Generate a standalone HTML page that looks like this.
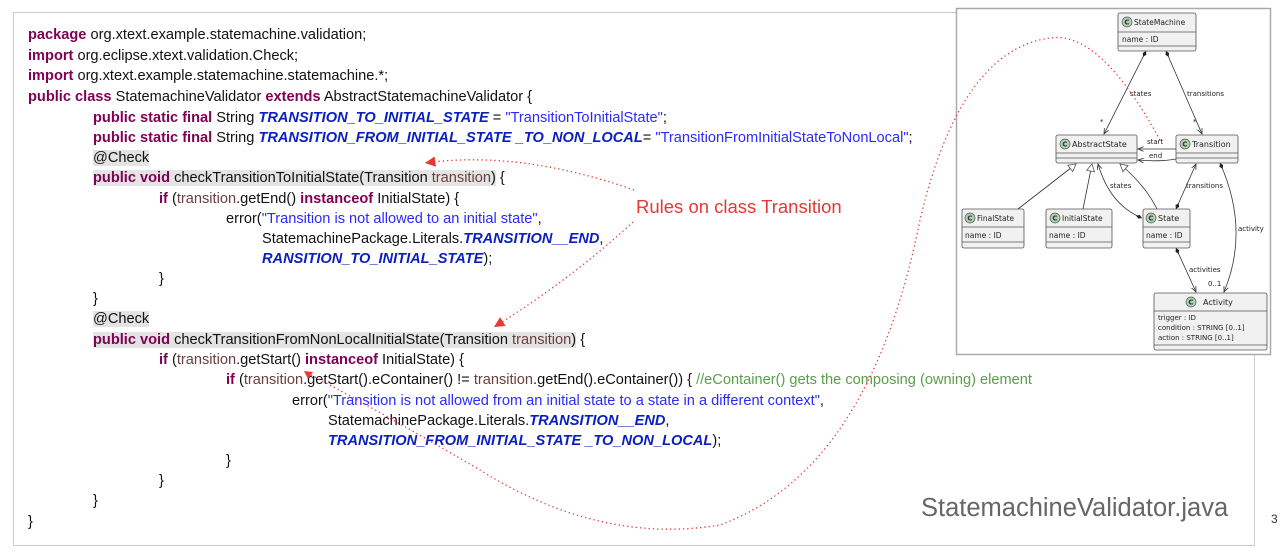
<!DOCTYPE html>
<html><head><meta charset="utf-8"><style>
body{margin:0;width:1282px;height:554px;background:#fff;position:relative;overflow:hidden;font-family:"Liberation Sans",Arial,sans-serif}
.frame{position:absolute;left:13px;top:12px;width:1242px;height:534px;border:1.5px solid #ccc;box-sizing:border-box}
.l{position:absolute;white-space:pre;font-size:14.6px;line-height:18px;letter-spacing:0;color:#111;margin-top:1px}
.k{color:#7f0055;font-weight:bold}
.s{color:#2a2aff}
.c{color:#0a1fc0;font-weight:bold;font-style:italic}
.p{color:#6a3e3e}
.g{color:#5a9e4a}
.h{background:#e4e4e4}
</style></head><body>
<div class="frame"></div>
<div class="l" style="left:28px;top:25px"><span class="k">package</span> org.xtext.example.statemachine.validation;</div>
<div class="l" style="left:28px;top:46px"><span class="k">import</span> org.eclipse.xtext.validation.Check;</div>
<div class="l" style="left:28px;top:66px"><span class="k">import</span> org.xtext.example.statemachine.statemachine.*;</div>
<div class="l" style="left:28px;top:87px"><span class="k">public class</span> StatemachineValidator <span class="k">extends</span> AbstractStatemachineValidator {</div>
<div class="l" style="left:93px;top:108px"><span class="k">public static final</span> String <span class="c">TRANSITION_TO_INITIAL_STATE</span> = <span class="s">"TransitionToInitialState"</span>;</div>
<div class="l" style="left:93px;top:128px"><span class="k">public static final</span> String <span class="c">TRANSITION_FROM_INITIAL_STATE _TO_NON_LOCAL</span>= <span class="s">"TransitionFromInitialStateToNonLocal"</span>;</div>
<div class="l" style="left:93px;top:148px"><span class="h">@Check</span></div>
<div class="l" style="left:93px;top:168px"><span class="h"><span class="k">public void</span> checkTransitionToInitialState(Transition <span class="p">transition</span>)</span> {</div>
<div class="l" style="left:159px;top:189px"><span class="k">if</span> (<span class="p">transition</span>.getEnd() <span class="k">instanceof</span> InitialState) {</div>
<div class="l" style="left:226px;top:209px">error(<span class="s">"Transition is not allowed to an initial state"</span>,</div>
<div class="l" style="left:262px;top:229px">StatemachinePackage.Literals.<span class="c">TRANSITION__END</span>,</div>
<div class="l" style="left:262px;top:249px"><span class="c">RANSITION_TO_INITIAL_STATE</span>);</div>
<div class="l" style="left:159px;top:269px">}</div>
<div class="l" style="left:93px;top:289px">}</div>
<div class="l" style="left:93px;top:309px"><span class="h">@Check</span></div>
<div class="l" style="left:93px;top:330px"><span class="h"><span class="k">public void</span> checkTransitionFromNonLocalInitialState(Transition <span class="p">transition</span>)</span> {</div>
<div class="l" style="left:159px;top:350px"><span class="k">if</span> (<span class="p">transition</span>.getStart() <span class="k">instanceof</span> InitialState) {</div>
<div class="l" style="left:226px;top:370px"><span class="k">if</span> (<span class="p">transition</span>.getStart().eContainer() != <span class="p">transition</span>.getEnd().eContainer()) { <span class="g">//eContainer() gets the composing (owning) element</span></div>
<div class="l" style="left:292px;top:391px">error(<span class="s">"Transition is not allowed from an initial state to a state in a different context"</span>,</div>
<div class="l" style="left:328px;top:411px">StatemachinePackage.Literals.<span class="c">TRANSITION__END</span>,</div>
<div class="l" style="left:328px;top:431px"><span class="c">TRANSITION_FROM_INITIAL_STATE _TO_NON_LOCAL</span>);</div>
<div class="l" style="left:226px;top:451px">}</div>
<div class="l" style="left:159px;top:471px">}</div>
<div class="l" style="left:93px;top:491px">}</div>
<div class="l" style="left:28px;top:512px">}</div>
<div style="position:absolute;left:636px;top:196px;font-size:18.5px;color:#e53935">Rules on class Transition</div>
<div style="position:absolute;left:921px;top:494px;font-size:25.5px;color:#666">StatemachineValidator.java</div>
<div style="position:absolute;left:1271px;top:512px;font-size:12px;color:#333">3</div>

<svg style="position:absolute;left:0;top:0" width="1282" height="554" font-family="'DejaVu Sans',sans-serif" font-size="7.5">
<defs>
<marker id="ar" markerWidth="8" markerHeight="8" refX="7" refY="4" orient="auto"><path d="M0,1 L7,4 L0,7" fill="none" stroke="#333" stroke-width="1"/></marker>
<marker id="dm" markerWidth="10" markerHeight="8" refX="1" refY="4" orient="auto"><path d="M1,4 L5,1.5 L9,4 L5,6.5 Z" fill="#222"/></marker>
<marker id="tri" markerWidth="12" markerHeight="12" refX="10" refY="6" orient="auto"><path d="M1,1 L10,6 L1,11 Z" fill="#fff" stroke="#555"/></marker>
<marker id="ra" markerWidth="10" markerHeight="10" refX="8" refY="5" orient="auto"><path d="M0,1 L8,5 L0,9 Z" fill="#e53935"/></marker>
</defs>
<rect x="956.5" y="8.5" width="314" height="346" fill="#fff" stroke="#aaa" stroke-width="1.5"/>
<g stroke="#555" stroke-width="0.8" fill="#f1f1f1">
<rect x="1118" y="13" width="78" height="38" rx="2"/><line x1="1118" y1="32" x2="1196" y2="32"/><line x1="1118" y1="46" x2="1196" y2="46"/>
<rect x="1056" y="135" width="81" height="28" rx="2"/><line x1="1056" y1="153" x2="1137" y2="153"/><line x1="1056" y1="158" x2="1137" y2="158"/>
<rect x="1176" y="135" width="62" height="28" rx="2"/><line x1="1176" y1="153" x2="1238" y2="153"/><line x1="1176" y1="158" x2="1238" y2="158"/>
<rect x="962" y="209" width="62" height="39" rx="2"/><line x1="962" y1="227" x2="1024" y2="227"/><line x1="962" y1="242" x2="1024" y2="242"/>
<rect x="1046" y="209" width="66" height="39" rx="2"/><line x1="1046" y1="227" x2="1112" y2="227"/><line x1="1046" y1="242" x2="1112" y2="242"/>
<rect x="1143" y="209" width="47" height="39" rx="2"/><line x1="1143" y1="227" x2="1190" y2="227"/><line x1="1143" y1="242" x2="1190" y2="242"/>
<rect x="1154" y="293" width="113" height="57" rx="2"/><line x1="1154" y1="311" x2="1267" y2="311"/><line x1="1154" y1="345" x2="1267" y2="345"/>
</g>
<g fill="#add1b2" stroke="#555" stroke-width="0.7">
<circle cx="1127" cy="22" r="5"/><circle cx="1065" cy="144" r="5"/><circle cx="1185" cy="144" r="5"/>
<circle cx="970" cy="218" r="5"/><circle cx="1055" cy="218" r="5"/><circle cx="1151" cy="218" r="5"/><circle cx="1191" cy="302" r="5"/>
</g>
<g font-size="7" font-weight="bold" fill="#333" text-anchor="middle">
<text x="1127" y="24.5">C</text><text x="1065" y="146.5">C</text><text x="1185" y="146.5">C</text>
<text x="970" y="220.5">C</text><text x="1055" y="220.5">C</text><text x="1151" y="220.5">C</text><text x="1191" y="304.5">C</text>
</g>
<g fill="#222">
<text x="1134" y="25">StateMachine</text><text x="1122" y="42">name : ID</text>
<text x="1072" y="147" font-size="8">AbstractState</text><text x="1192" y="147" font-size="8">Transition</text>
<text x="977" y="221">FinalState</text><text x="965" y="238">name : ID</text>
<text x="1062" y="221">InitialState</text><text x="1049" y="238">name : ID</text>
<text x="1158" y="221" font-size="8">State</text><text x="1146" y="238">name : ID</text>
<text x="1203" y="305" font-size="8">Activity</text>
<text x="1158" y="320" font-size="7">trigger : ID</text><text x="1158" y="330" font-size="7">condition : STRING [0..1]</text><text x="1158" y="340" font-size="7">action : STRING [0..1]</text>
<text x="1130" y="96" font-size="7">states</text><text x="1187" y="96" font-size="7">transitions</text>
<text x="1147" y="144" font-size="7">start</text><text x="1149" y="158" font-size="7">end</text>
<text x="1110" y="188" font-size="7">states</text><text x="1186" y="188" font-size="7">transitions</text>
<text x="1238" y="231" font-size="7">activity</text><text x="1189" y="272" font-size="7">activities</text>
<text x="1208" y="286" font-size="7">0..1</text><text x="1100" y="124" font-size="7">*</text><text x="1193" y="124" font-size="7">*</text>
</g>
<g stroke="#333" stroke-width="0.8" fill="none">
<line x1="1146" y1="51" x2="1104" y2="134" marker-start="url(#dm)" marker-end="url(#ar)"/>
<line x1="1166" y1="51" x2="1202" y2="134" marker-start="url(#dm)" marker-end="url(#ar)"/>
<line x1="1176" y1="149" x2="1138" y2="149" marker-end="url(#ar)"/>
<path d="M1176,159 Q1160,162 1138,160" marker-end="url(#ar)"/>
<line x1="1018" y1="209" x2="1076" y2="164" marker-end="url(#tri)"/>
<line x1="1083" y1="209" x2="1092" y2="164" marker-end="url(#tri)"/>
<path d="M1157,209 Q1145,185 1120,164" marker-end="url(#tri)"/>
<path d="M1142,218 Q1110,205 1098,164" marker-start="url(#dm)" marker-end="url(#ar)"/>
<line x1="1176" y1="209" x2="1196" y2="164" marker-start="url(#dm)" marker-end="url(#ar)"/>
<path d="M1220,163 Q1250,230 1224,292" marker-start="url(#dm)" marker-end="url(#ar)"/>
<line x1="1176" y1="248" x2="1196" y2="292" marker-start="url(#dm)" marker-end="url(#ar)"/>
</g>
<g stroke="#e53935" stroke-width="1.3" fill="none" stroke-dasharray="1.3 3">
<path d="M634,190 Q520,150 425,163" marker-end="url(#ra)"/>
<path d="M633,222 Q570,280 494,327" marker-end="url(#ra)"/>
<path d="M1160,140 Q1100,30 1050,38 Q960,50 920,220 Q870,470 720,525 Q600,545 480,470 Q360,400 305,372"/>
</g>
<path d="M304,371 L313,372 L308,379 Z" fill="#e53935"/>
</svg>
</body></html>
